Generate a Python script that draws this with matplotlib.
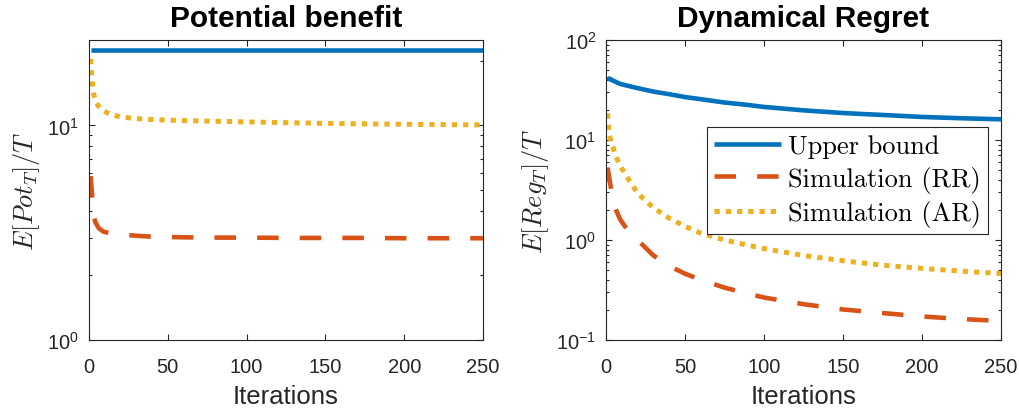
import matplotlib
matplotlib.use("Agg")
import matplotlib.pyplot as plt
from matplotlib.ticker import NullFormatter, LogLocator

# ---------------- data ----------------
iterations = [1, 2, 3, 4, 6, 9, 13, 20, 30, 40, 50, 60, 75, 90, 100, 125, 150, 175, 200, 225, 250]

# Potential benefit
pot_upper = [22.4] * len(iterations)
pot_rr = [5.8, 4.7, 3.75, 3.55, 3.33, 3.2, 3.15, 3.1, 3.06, 3.03, 3.02, 3.01, 3.0, 3.0, 3.0,
          2.99, 2.99, 2.99, 2.98, 2.98, 2.98]
pot_ar = [20.4, 16.0, 14.0, 13.0, 12.3, 11.7, 11.3, 10.95, 10.75, 10.65, 10.58, 10.53, 10.47,
          10.42, 10.38, 10.3, 10.22, 10.17, 10.12, 10.08, 10.05]

# Dynamical regret
reg_upper = [39.5, 41.2, 40.5, 39.6, 38.2, 36.4, 35.1, 33.0, 30.5, 28.7, 26.9, 25.6, 23.7, 22.4,
             21.4, 19.8, 18.6, 17.8, 17.0, 16.5, 16.1]
reg_rr = [5.3, 4.2, 3.4, 2.85, 2.05, 1.6, 1.3, 1.0, 0.70, 0.55, 0.46, 0.40, 0.334, 0.29, 0.266,
          0.228, 0.202, 0.186, 0.172, 0.162, 0.155]
reg_ar = [18.4, 11.4, 9.9, 8.9, 7.0, 5.5, 4.35, 2.93, 2.1, 1.65, 1.37, 1.17, 1.0, 0.885, 0.82,
          0.70, 0.62, 0.56, 0.52, 0.488, 0.462]

titles = ["Potential benefit", "Dynamical Regret"]
ylabels = [r"$E[Pot_T]/T$", r"$E[Reg_T]/T$"]
legend_labels = ["Upper bound", "Simulation (RR)", "Simulation (AR)"]
xticks = [0, 50, 100, 150, 200, 250]

# ---------------- style ----------------
plt.rcParams["mathtext.fontset"] = "cm"
plt.rcParams["font.family"] = ["Liberation Sans", "DejaVu Sans"]

C_BLUE = "#0072BD"
C_ORANGE = "#D95319"
C_YELLOW = "#EDB120"
AX_COL = "#262626"
LW = 3.3

fig = plt.figure(figsize=(10.2, 4.14), dpi=100)
W, H = 1020, 414
ax1 = fig.add_axes([89 / W, 1 - 341 / H, 394 / W, 300 / H])
ax2 = fig.add_axes([606 / W, 1 - 341 / H, 395 / W, 300 / H])

series = [
    (ax1, pot_upper, pot_rr, pot_ar, (1, 25)),
    (ax2, reg_upper, reg_rr, reg_ar, (0.1, 100)),
]

for i, (ax, up, rr, ar, ylim) in enumerate(series):
    l1, = ax.plot(iterations, up, color=C_BLUE, lw=LW, solid_capstyle="butt")
    l2, = ax.plot(iterations, rr, color=C_ORANGE, lw=LW, dashes=(4.7, 4.6),
                  dash_capstyle="butt")
    l3, = ax.plot(iterations, ar, color=C_YELLOW, lw=LW + 0.3, dashes=(1.05, 1.2),
                  dash_capstyle="butt")
    ax.set_yscale("log")
    ax.set_xlim(0, 250)
    ax.set_ylim(*ylim)
    ax.set_xticks(xticks)
    ax.yaxis.set_major_locator(LogLocator(base=10, numticks=10))
    ax.yaxis.set_minor_locator(LogLocator(base=10, subs=range(2, 10), numticks=20))
    ax.yaxis.set_minor_formatter(NullFormatter())
    for s in ax.spines.values():
        s.set_color(AX_COL)
        s.set_linewidth(0.8)
    ax.tick_params(which="both", direction="in", top=True, right=True,
                   colors=AX_COL, labelcolor=AX_COL, width=0.8)
    ax.tick_params(which="major", length=4, labelsize=14.5)
    ax.tick_params(axis="x", which="major", pad=12)
    ax.tick_params(axis="y", which="major", pad=7)
    ax.tick_params(which="minor", length=2.2)
    ax.set_title(titles[i], fontsize=21.5, fontweight="bold", pad=10)
    ax.set_xlabel("Iterations", fontsize=18.5, color=AX_COL, labelpad=6)
    ax.set_ylabel(ylabels[i], fontsize=19, color=AX_COL, labelpad=4)
    if i == 1:
        leg = ax.legend([l1, l2, l3], legend_labels, loc="upper right",
                        bbox_to_anchor=(0.967, 0.71), borderaxespad=0,
                        prop={"family": "cmr10", "size": 19},
                        handlelength=2.55, handletextpad=0.25, labelspacing=0.29,
                        borderpad=0.27, fancybox=False, framealpha=1,
                        edgecolor=AX_COL)
        leg.get_frame().set_linewidth(0.8)

fig.savefig("out.png", dpi=100, facecolor="white")
